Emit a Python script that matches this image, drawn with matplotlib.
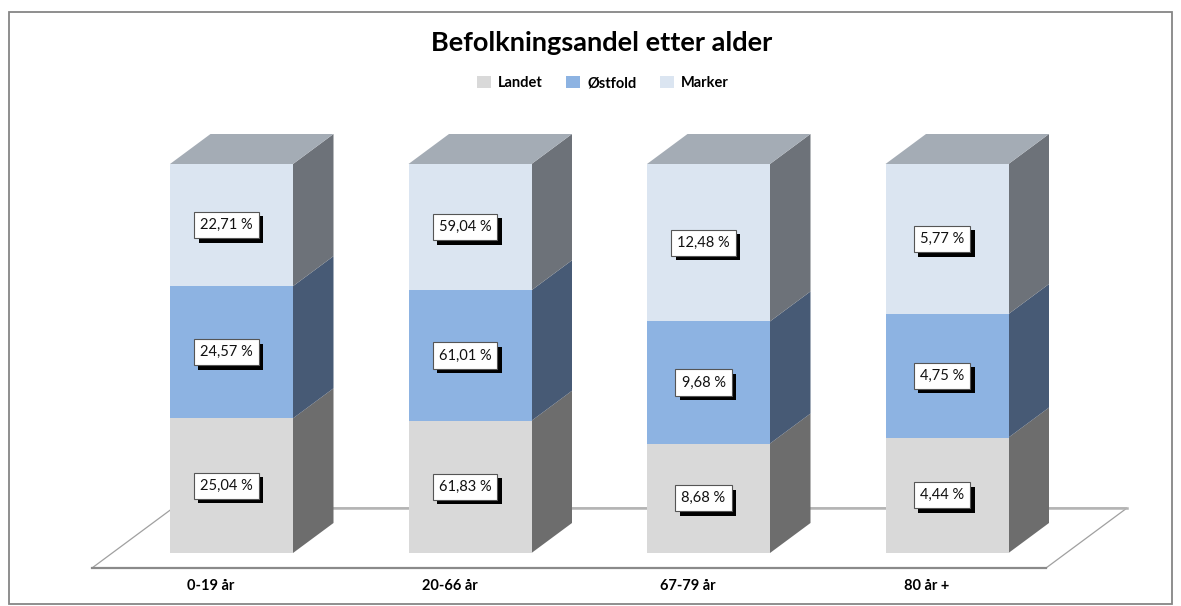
import matplotlib
matplotlib.use("Agg")
import matplotlib.pyplot as plt
import matplotlib.patheffects as pe
from matplotlib.patches import Polygon, Rectangle, Patch
import numpy as np

W, H = 1181, 606
plt.rcParams['font.family'] = ['Lato', 'DejaVu Sans']

categories = ['0-19 år', '20-66 år', '67-79 år', '80 år +']
landet = [25.04, 61.83, 8.68, 4.44]
ostfold = [24.57, 61.01, 9.68, 4.75]
marker = [22.71, 59.04, 12.48, 5.77]
series_names = ['Landet', 'Østfold', 'Marker']

front_colors = ['#D9D9D9', '#8DB3E2', '#DBE5F1']
side_colors = ['#6D6D6D', '#475A75', '#6D7279']
top_color = '#A4ACB5'

fig = plt.figure(figsize=(W / 100, H / 100), dpi=100, facecolor='white')
fig.add_artist(Rectangle((9.5 / W, 1 - 603.5 / H), 1162 / W, 592 / H, transform=fig.transFigure,
                         fill=False, edgecolor='#868686', linewidth=1.3))

left, right, top, bottom = 112.25, 1066.25, 164, 553
ax = fig.add_axes([left / W, 1 - bottom / H, (right - left) / W, (bottom - top) / H])
ax.set_xlim(-0.5, 3.5)
ax.set_ylim(0, 1)
ax.patch.set_visible(False)
for s in ax.spines.values():
    s.set_visible(False)

unit_x, unit_y = right - left, bottom - top
unit_x /= 4
dx, dy = 40.5 / unit_x, 30 / unit_y      # depth of a column
width = 123 / unit_x

# floor
fx0, fx1 = (92 - left) / unit_x - 0.5, (1046 - left) / unit_x - 0.5
fy0 = -15 / unit_y
fdx, fdy = 81 / unit_x, 60 / unit_y
ax.add_patch(Polygon([(fx0, fy0), (fx1, fy0), (fx1 + fdx, fy0 + fdy), (fx0 + fdx, fy0 + fdy)],
                     closed=True, facecolor='white', edgecolor='#A0A0A0', linewidth=0.9,
                     clip_on=False, zorder=1))
ax.plot([fx0, fx1], [fy0, fy0], color='#8A8A8A', lw=1.6, clip_on=False, zorder=1.1)
ax.plot([fx0 + fdx, fx1 + fdx], [fy0 + fdy, fy0 + fdy], color='#B4B4B4', lw=1.8, clip_on=False, zorder=1.1)

x = np.arange(len(categories))
values = np.array([landet, ostfold, marker], dtype=float)
shares = values / values.sum(axis=0)
base = np.zeros(len(categories))
for k, name in enumerate(series_names):
    ax.bar(x, shares[k], width, bottom=base, color=front_colors[k], linewidth=0, zorder=3, clip_on=False)
    for i in x:
        xr = i + width / 2
        y0, y1 = base[i], base[i] + shares[k][i]
        ax.add_patch(Polygon([(xr, y0), (xr + dx, y0 + dy), (xr + dx, y1 + dy), (xr, y1)],
                             closed=True, facecolor=side_colors[k], edgecolor='none',
                             zorder=2, clip_on=False))
        t = ax.text(i - 5 / unit_x, (y0 + y1) / 2, f'{values[k][i]:.2f} %'.replace('.', ','),
                    ha='center', va='center', fontsize=10.5, color='#111111', zorder=6,
                    bbox=dict(boxstyle='square,pad=0.42', facecolor='white',
                              edgecolor='#555555', linewidth=0.8))
        t.get_bbox_patch().set_path_effects([
            pe.SimplePatchShadow(offset=(3.2, -3.2), shadow_rgbFace='black', alpha=1.0),
            pe.Normal()])
    base = base + shares[k]

for i in x:
    xl, xr = i - width / 2, i + width / 2
    ax.add_patch(Polygon([(xl, 1), (xr, 1), (xr + dx, 1 + dy), (xl + dx, 1 + dy)], closed=True,
                         facecolor=top_color, edgecolor='none', zorder=3, clip_on=False))

ax.set_yticks([])
ax.set_xticks(x - 20.5 / unit_x)
ax.set_xticklabels(categories, fontsize=10.5, fontweight='bold', color='black')
ax.tick_params(axis='x', length=0, pad=18.5)

fig.text(601.5 / W, 1 - 43 / H, 'Befolkningsandel etter alder', ha='center', va='center',
         fontsize=19.5, fontweight='bold', color='black')

handles = [Patch(facecolor=c, edgecolor='none') for c in front_colors]
fig.legend(handles, series_names, loc='center', bbox_to_anchor=(603 / W, 1 - 83 / H), ncol=3,
           frameon=False, fontsize=10.5, prop=dict(weight='bold', size=10.5),
           handlelength=0.95, handleheight=0.95, handletextpad=0.5, columnspacing=1.6)

fig.savefig('out.png', dpi=100)
